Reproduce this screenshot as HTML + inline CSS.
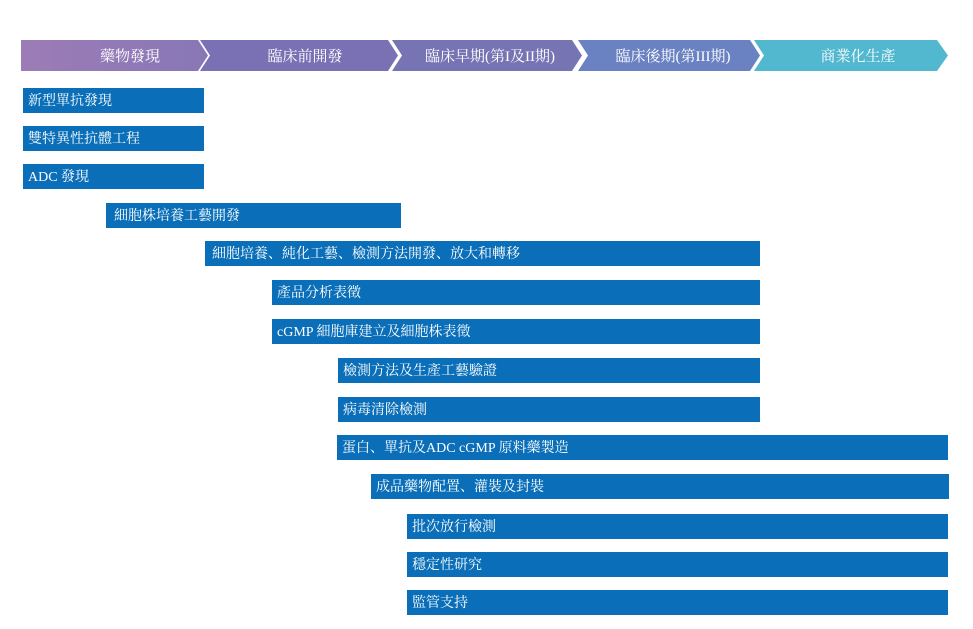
<!DOCTYPE html>
<html><head><meta charset="utf-8"><style>
body{margin:0;width:973px;height:629px;background:#fff;position:relative;overflow:hidden;font-family:"Liberation Serif","Noto Serif CJK SC","Noto Sans CJK TC",serif;}
.b{position:absolute;background:#0a6fb8;color:#fff;font-size:14px;line-height:27px;padding-left:5px;box-sizing:border-box;height:25px;white-space:nowrap;overflow:hidden;}
svg{position:absolute;left:0;top:0}
</style></head><body>
<svg width="973" height="80">
<defs><linearGradient id="g1" x1="0" x2="1"><stop offset="0" stop-color="#9c7cb6"/><stop offset="1" stop-color="#8877b6"/></linearGradient></defs>
<polygon points="21,40 198,40 208,55.5 198,71 21,71" fill="url(#g1)"/>
<polygon points="200,40 388,40 398,55.5 388,71 200,71 210,55.5" fill="#7a70b4"/>
<polygon points="392,40 572,40 582,55.5 572,71 392,71 402,55.5" fill="#7774b4"/>
<polygon points="578,40 750,40 760,55.5 750,71 578,71 588,55.5" fill="#6a82c2"/>
<polygon points="754,40 937,40 948,55.5 937,71 754,71 764,55.5" fill="#52b8cf"/>
<g fill="#fff" font-size="15" text-anchor="middle" font-family="Liberation Serif,Noto Serif CJK SC,serif">
<text x="130" y="61">藥物發現</text>
<text x="305" y="61">臨床前開發</text>
<text x="490" y="61">臨床早期(第I及II期)</text>
<text x="673" y="61">臨床後期(第III期)</text>
<text x="858" y="61">商業化生產</text>
</g></svg>
<div class="b" style="left:23px;top:88px;width:181px">新型單抗發現</div>
<div class="b" style="left:23px;top:126px;width:181px">雙特異性抗體工程</div>
<div class="b" style="left:23px;top:164px;width:181px">ADC 發現</div>
<div class="b" style="left:106px;top:203px;width:295px;padding-left:8px">細胞株培養工藝開發</div>
<div class="b" style="left:205px;top:241px;width:555px;padding-left:7px">細胞培養、純化工藝、檢測方法開發、放大和轉移</div>
<div class="b" style="left:272px;top:280px;width:488px">產品分析表徵</div>
<div class="b" style="left:272px;top:319px;width:488px">cGMP 細胞庫建立及細胞株表徵</div>
<div class="b" style="left:338px;top:358px;width:422px">檢測方法及生產工藝驗證</div>
<div class="b" style="left:338px;top:397px;width:422px">病毒清除檢測</div>
<div class="b" style="left:337px;top:435px;width:611px">蛋白、單抗及ADC cGMP 原料藥製造</div>
<div class="b" style="left:371px;top:474px;width:578px">成品藥物配置、灌裝及封裝</div>
<div class="b" style="left:407px;top:514px;width:541px">批次放行檢測</div>
<div class="b" style="left:407px;top:552px;width:541px">穩定性研究</div>
<div class="b" style="left:407px;top:590px;width:541px">監管支持</div>
</body></html>
